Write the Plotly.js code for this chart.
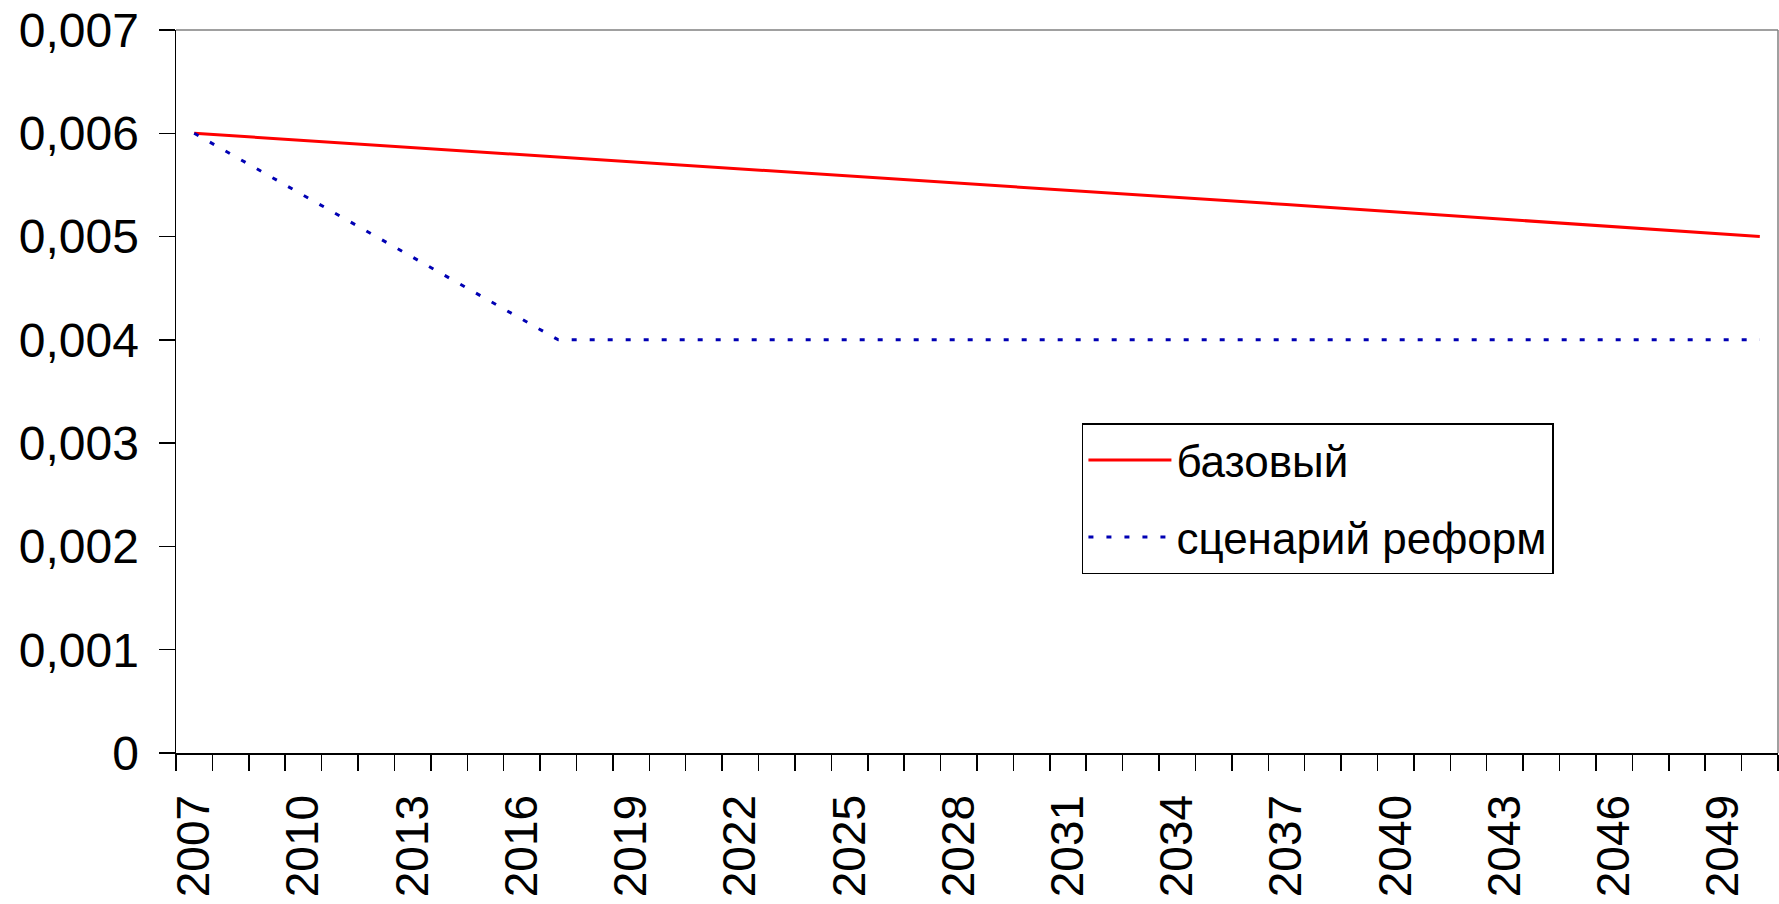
<!DOCTYPE html>
<html>
<head>
<meta charset="utf-8">
<script src="https://cdn.plot.ly/plotly-3.0.1.min.js"></script>
<style>html,body{margin:0;padding:0;background:#fff;}#chart{width:1779px;height:904px;}</style>
</head>
<body>
<div id="chart"></div>
<script>
// Years (categories)
const years = [2007,2008,2009,2010,2011,2012,2013,2014,2015,2016,2017,2018,2019,2020,2021,
  2022,2023,2024,2025,2026,2027,2028,2029,2030,2031,2032,2033,2034,2035,2036,2037,2038,
  2039,2040,2041,2042,2043,2044,2045,2046,2047,2048,2049,2050];

// базовый
const baseValues = [0.006,0.005977,0.005955,0.005932,0.005909,0.005886,0.005864,0.005841,
  0.005818,0.005795,0.005773,0.00575,0.005727,0.005705,0.005682,0.005659,0.005636,0.005614,
  0.005591,0.005568,0.005545,0.005523,0.0055,0.005476,0.005452,0.005429,0.005405,0.005381,
  0.005357,0.005333,0.00531,0.005286,0.005262,0.005238,0.005214,0.00519,0.005167,0.005143,
  0.005119,0.005095,0.005071,0.005048,0.005024,0.005];

// сценарий реформ
const reformValues = [0.006,0.0058,0.0056,0.0054,0.0052,0.005,0.0048,0.0046,0.0044,0.0042,
  0.004,0.004,0.004,0.004,0.004,0.004,0.004,0.004,0.004,0.004,0.004,0.004,0.004,0.004,0.004,
  0.004,0.004,0.004,0.004,0.004,0.004,0.004,0.004,0.004,0.004,0.004,0.004,0.004,0.004,0.004,
  0.004,0.004,0.004,0.004];

const seriesNames = ['базовый', 'сценарий реформ'];
const xTickLabels = ['2007','2010','2013','2016','2019','2022','2025','2028','2031','2034',
  '2037','2040','2043','2046','2049'];
const yTickValues = [0,0.001,0.002,0.003,0.004,0.005,0.006,0.007];
const yTickLabels = ['0','0,001','0,002','0,003','0,004','0,005','0,006','0,007'];

const FONT = 'Arial, "Liberation Sans", sans-serif';

const traces = [
  {
    x: years, y: baseValues, name: seriesNames[0], type: 'scatter', mode: 'lines',
    line: {color: '#ff0000', width: 3}, legendgroup: 'a'
  },
  {
    x: years, y: reformValues, name: seriesNames[1], type: 'scatter', mode: 'lines',
    line: {color: '#0000b4', width: 3, dash: '5px,13px'}, legendgroup: 'b'
  }
];

const layout = {
  width: 1779, height: 904,
  margin: {l: 176, r: 1, t: 30, b: 151, pad: 0},
  paper_bgcolor: '#ffffff', plot_bgcolor: '#ffffff',
  font: {family: FONT, color: '#000', size: 48},
  showlegend: true,
  legend: {
    x: 0.5655, y: 0.456, xanchor: 'left', yanchor: 'top',
    bgcolor: '#ffffff', bordercolor: '#000', borderwidth: 1.5,
    font: {family: FONT, size: 44, color: '#000'},
    traceorder: 'grouped', tracegroupgap: 17, itemwidth: 83
  },
  xaxis: {
    type: 'linear',
    range: [years[0] - 0.5, years[years.length - 1] + 0.5],
    tickmode: 'array',
    tickvals: xTickLabels.map(Number),
    ticktext: xTickLabels,
    tickangle: -90,
    ticks: '',
    ticklabelstandoff: 22,
    minor: {tick0: years[0] - 0.5, dtick: 1, ticks: 'outside', ticklen: 16, tickwidth: 1.5, tickcolor: '#000', showgrid: false},
    showgrid: false, zeroline: false,
    showline: true, linecolor: '#000', linewidth: 1.5,
    tickfont: {family: FONT, size: 46, color: '#000'},
    fixedrange: true
  },
  yaxis: {
    range: [0, 0.007],
    tickmode: 'array',
    tickvals: yTickValues,
    ticktext: yTickLabels,
    ticks: 'outside', ticklen: 16, tickwidth: 1.5, tickcolor: '#000',
    ticklabelstandoff: 10,
    showgrid: false, zeroline: false,
    showline: true, linecolor: '#000', linewidth: 1.5,
    tickfont: {family: FONT, size: 48, color: '#000'},
    fixedrange: true
  },
  shapes: [
    {type: 'line', xref: 'paper', yref: 'paper', x0: 0, x1: 1, y0: 1, y1: 1, line: {color: '#808080', width: 1.5}},
    {type: 'line', xref: 'paper', yref: 'paper', x0: 1, x1: 1, y0: 0, y1: 1, line: {color: '#808080', width: 1.5}}
  ]
};

Plotly.newPlot('chart', traces, layout, {displayModeBar: false, staticPlot: true});
</script>
</body>
</html>
